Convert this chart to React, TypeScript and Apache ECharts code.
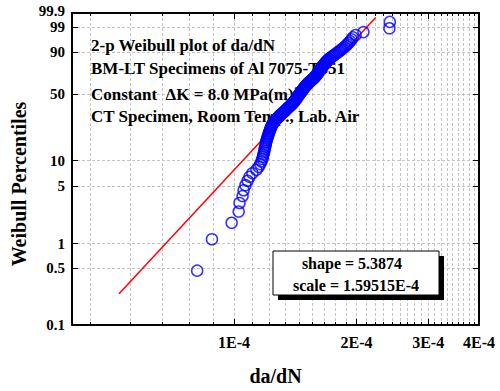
import React, { useEffect, useRef } from "react";
import * as echarts from "echarts";

// da/dN values (units of 1E-4), sorted ascending
const dadNE4 = [
  0.812, 0.883, 0.987, 1.027, 1.032, 1.05, 1.056, 1.067, 1.08, 1.092,
  1.11, 1.135, 1.15, 1.16, 1.168, 1.174, 1.178, 1.181, 1.185, 1.188,
  1.19, 1.193, 1.196, 1.198, 1.2, 1.203, 1.206, 1.209, 1.212, 1.215,
  1.218, 1.221, 1.224, 1.227, 1.23, 1.233, 1.236, 1.24, 1.244, 1.249,
  1.255, 1.26, 1.266, 1.272, 1.279, 1.285, 1.291, 1.298, 1.305, 1.313,
  1.32, 1.327, 1.334, 1.34, 1.347, 1.353, 1.359, 1.366, 1.373, 1.38,
  1.385, 1.39, 1.395, 1.4, 1.405, 1.41, 1.415, 1.419, 1.423, 1.427,
  1.43, 1.434, 1.438, 1.442, 1.446, 1.45, 1.454, 1.458, 1.463, 1.468,
  1.471, 1.475, 1.479, 1.483, 1.487, 1.491, 1.495, 1.5, 1.505, 1.51,
  1.515, 1.52, 1.526, 1.532, 1.538, 1.544, 1.55, 1.556, 1.563, 1.57,
  1.575, 1.58, 1.585, 1.59, 1.595, 1.599, 1.603, 1.607, 1.611, 1.614,
  1.618, 1.622, 1.626, 1.63, 1.635, 1.64, 1.645, 1.65, 1.655, 1.66,
  1.666, 1.672, 1.678, 1.684, 1.69, 1.697, 1.705, 1.714, 1.724, 1.736,
  1.748, 1.76, 1.772, 1.785, 1.798, 1.812, 1.826, 1.84, 1.855, 1.87,
  1.885, 1.9, 1.915, 1.93, 1.945, 1.96, 1.99, 2.08, 2.41, 2.415,
];

// fitted Weibull line end points (x in units of 1E-4, percentile)
const fitXE4 = [0.522, 2.23];
const fitP = [0.243, 99.77];

// axis ticks
const xMajorE4 = [1, 2, 3, 4];
const xMinorDiv = 9; // tick every 1/9 of 1E-4
const xMinE4 = 0.4;
const yTickP = [0.1, 0.5, 1, 5, 10, 50, 90, 99, 99.9];
const yTickLabels = ["0.1", "0.5", "1", "5", "10", "50", "90", "99", "99.9"];

const titleLines = [
  "2-p Weibull plot of da/dN",
  "BM-LT Specimens of Al 7075-T651",
  "Constant  ΔK = 8.0 MPa(m)",
  "CT Specimen, Room Temp., Lab. Air",
];
const shapeText = "shape = 5.3874";
const scaleText = "scale = 1.59515E-4";
const xName = "da/dN";
const yName = "Weibull Percentiles";

const FONT = "'Liberation Serif', 'Times New Roman', serif";
const UNIT = 1e-4;

const wt = (pct: number) => Math.log(-Math.log(1 - pct / 100));
const lx = (e4: number) => Math.log10(e4 * UNIT);

export default function App() {
  const ref = useRef<HTMLDivElement>(null);
  useEffect(() => {
    if (!ref.current) return;
    const chart = echarts.init(ref.current, undefined, { renderer: "svg" });
    const n = dadNE4.length;
    const points = dadNE4.map((v, i) => [lx(v), wt(((i + 1 - 0.3) / (n + 0.4)) * 100)]);
    const fit = fitXE4.map((v, i) => [lx(v), wt(fitP[i])]);

    const xTicks: number[] = [];
    const lastMajor = xMajorE4[xMajorE4.length - 1];
    for (let k = 1; k <= lastMajor * xMinorDiv; k++) {
      const v = k / xMinorDiv;
      if (v > xMinE4) xTicks.push(lx(v));
    }
    const xLabelVals = xMajorE4.map(lx);
    const xMin = lx(xMinE4);
    const xMax = lx(lastMajor);
    const yVals = yTickP.map(wt);
    const yMin = yVals[0];
    const yMax = yVals[yVals.length - 1];

    const black = "#000";
    const baseX = {
      type: "value",
      min: xMin,
      max: xMax,
      splitLine: { show: false },
      axisLabel: { show: false },
    };
    const lbl = { fontFamily: FONT, fontWeight: "bold", fontSize: 15, color: black };
    const line2 = { onZero: false, lineStyle: { color: black, width: 2 } };
    const yFormatter = (v: number) => {
      let best = 0;
      yVals.forEach((t, i) => {
        if (Math.abs(t - v) < Math.abs(yVals[best] - v)) best = i;
      });
      return yTickLabels[best];
    };

    const option: any = {
      animation: false,
      backgroundColor: "#fff",
      grid: { left: 72, right: 21, top: 13, bottom: 59 },
      xAxis: [
        {
          ...baseX,
          position: "bottom",
          axisLine: line2,
          axisTick: { inside: true, length: 3, customValues: xTicks, lineStyle: { color: black, width: 1 } },
          axisLabel: {
            show: true,
            customValues: xLabelVals,
            margin: 9,
            hideOverlap: false,
            showMinLabel: true,
            showMaxLabel: true,
            ...lbl,
            fontSize: 16,
            formatter: (v: number) => `${Math.round(Math.pow(10, v) / UNIT)}E-4`,
          },
          splitLine: { show: true, lineStyle: { color: "#c4c4c4", type: [3, 2], width: 1 } },
          name: xName,
          nameLocation: "middle",
          nameGap: 41,
          nameTextStyle: { fontFamily: FONT, fontWeight: "bold", fontSize: 20, color: black },
        },
        {
          ...baseX,
          position: "bottom",
          axisLine: { show: false, onZero: false },
          axisTick: { inside: true, length: 6, customValues: xLabelVals, lineStyle: { color: black, width: 1 } },
        },
        {
          ...baseX,
          position: "top",
          axisLine: line2,
          axisTick: { inside: true, length: 3, customValues: xTicks, lineStyle: { color: black, width: 1 } },
        },
        {
          ...baseX,
          position: "top",
          axisLine: { show: false, onZero: false },
          axisTick: { inside: true, length: 6, customValues: xLabelVals, lineStyle: { color: black, width: 1 } },
        },
      ],
      yAxis: [
        {
          type: "value",
          min: yMin,
          max: yMax,
          position: "left",
          axisLine: line2,
          axisTick: { inside: true, length: 6, customValues: yVals, lineStyle: { color: black, width: 1 } },
          axisLabel: {
            customValues: yVals.slice(0, -1),
            margin: 7,
            hideOverlap: false,
            showMinLabel: true,
            showMaxLabel: true,
            lineHeight: 13,
            ...lbl,
            formatter: yFormatter,
          },
          splitLine: { show: true, lineStyle: { color: "#c4c4c4", type: [3, 2], width: 1 } },
        },
        {
          type: "value",
          min: yMin,
          max: yMax,
          position: "right",
          axisLine: line2,
          axisTick: { inside: true, length: 6, customValues: yVals, lineStyle: { color: black, width: 1 } },
          axisLabel: { show: false },
          splitLine: { show: false },
        },
        {
          type: "value",
          min: yMin,
          max: yMax,
          position: "left",
          axisLine: { show: false, onZero: false },
          axisTick: { show: false },
          axisLabel: {
            customValues: yVals.slice(-1),
            margin: 7,
            hideOverlap: false,
            showMaxLabel: true,
            lineHeight: 5,
            verticalAlign: "bottom",
            ...lbl,
            formatter: yFormatter,
          },
          splitLine: { show: false },
        },
      ],
      series: [
        {
          type: "line",
          data: fit,
          symbol: "none",
          lineStyle: { color: "#ff0000", width: 1.5 },
          z: 3,
        },
        {
          type: "scatter",
          data: points,
          symbol: "circle",
          symbolSize: 11,
          itemStyle: { color: "rgba(0,0,0,0)", borderColor: "#0000ff", borderWidth: 1.5 },
          z: 4,
        },
      ],
      graphic: [
        {
          type: "text",
          x: 19,
          y: 184,
          rotation: Math.PI / 2,
          style: { text: yName, fontFamily: FONT, fontWeight: "bold", fontSize: 20, fill: black, align: "center", verticalAlign: "middle" },
        },
        ...titleLines.map((t, i) => ({
          type: "text",
          left: 91,
          top: [37, 60, 85, 108][i],
          z: 1,
          style:
            i === 2
              ? {
                  text: `{n|${t}}{s|1/2}`,
                  rich: {
                    n: { fontFamily: FONT, fontWeight: "bold", fontSize: 17, fill: black, lineHeight: 18 },
                    s: { fontFamily: FONT, fontWeight: "bold", fontSize: 10, fill: black, verticalAlign: "top", lineHeight: 18 },
                  },
                }
              : { text: t, fontFamily: FONT, fontWeight: "bold", fontSize: 17, fill: black },
        })),
        {
          type: "rect",
          z: 100,
          shape: { x: 278, y: 256, width: 166, height: 44 },
          style: { fill: black },
        },
        {
          type: "rect",
          z: 101,
          shape: { x: 273, y: 251, width: 166, height: 44 },
          style: { fill: "#fff", stroke: black, lineWidth: 1 },
        },
        {
          type: "text",
          z: 102,
          x: 352,
          y: 263,
          style: { text: shapeText, fontFamily: FONT, fontWeight: "bold", fontSize: 16, fill: black, align: "center", verticalAlign: "middle" },
        },
        {
          type: "text",
          z: 102,
          x: 356,
          y: 285,
          style: { text: scaleText, fontFamily: FONT, fontWeight: "bold", fontSize: 16, fill: black, align: "center", verticalAlign: "middle" },
        },
      ],
    };
    chart.setOption(option);
    return () => chart.dispose();
  }, []);
  return <div ref={ref} style={{ width: 500, height: 391, position: "absolute", left: 0, top: 0 }} />;
}
